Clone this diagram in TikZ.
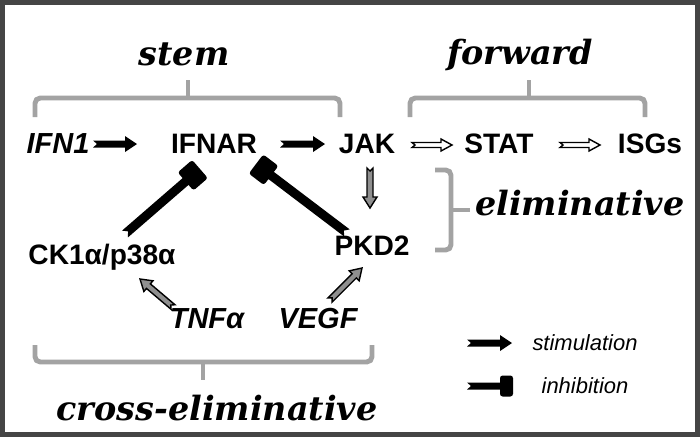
\documentclass[tikz,border=0pt]{standalone}
\usepackage{fontspec}
\setmainfont{Liberation Sans}
\newfontfamily\phasefont{DejaVu Serif}
\usetikzlibrary{calc}
\definecolor{frameC}{HTML}{454545}
\definecolor{braceC}{HTML}{A3A3A3}
\definecolor{midG}{HTML}{8F8F8F}
\def\px{0.02cm}

% block arrow with notched tail: \blockarr[style]{from}{to}
\newcommand\blockarr[3][stim]{%
  \path[#1] let \p1=(#2), \p2=(#3),
      \n1={atan2(\y2-\y1,\x2-\x1)}, \n2={veclen(\x2-\x1,\y2-\y1)} in
    ($(\p1)+({\n1+90}:{\aS*\px})$) -- ($(\p1)+(\n1:{\aN*\px})$)
    -- ($(\p1)+({\n1-90}:{\aS*\px})$)
    -- ($(\p1)+(\n1:{(\n2)*1pt-\aL*\px})+({\n1-90}:{\aS*\px})$)
    -- ($(\p1)+(\n1:{(\n2)*1pt-\aL*\px})+({\n1-90}:{\aH*\px})$)
    -- (\p2)
    -- ($(\p1)+(\n1:{(\n2)*1pt-\aL*\px})+({\n1+90}:{\aH*\px})$)
    -- ($(\p1)+(\n1:{(\n2)*1pt-\aL*\px})+({\n1+90}:{\aS*\px})$) -- cycle;}

% bar with notched tail and square end: \inhibarr[style]{from}{to}
\newcommand\inhibarr[3][inh]{%
  \path[#1] let \p1=(#2), \p2=(#3),
      \n1={atan2(\y2-\y1,\x2-\x1)}, \n2={veclen(\x2-\x1,\y2-\y1)} in
    ($(\p1)+({\n1+90}:{\aS*\px})$) -- ($(\p1)+(\n1:{\aN*\px})$)
    -- ($(\p1)+({\n1-90}:{\aS*\px})$)
    -- ($(\p1)+(\n1:{(\n2)*1pt-\aL*\px})+({\n1-90}:{\aS*\px})$)
    [rounded corners=1.5pt]
    -- ($(\p1)+(\n1:{(\n2)*1pt-\aL*\px})+({\n1-90}:{\aH*\px})$)
    -- ($(\p2)+({\n1-90}:{\aH*\px})$)
    -- ($(\p2)+({\n1+90}:{\aH*\px})$)
    -- ($(\p1)+(\n1:{(\n2)*1pt-\aL*\px})+({\n1+90}:{\aH*\px})$)
    [sharp corners]
    -- ($(\p1)+(\n1:{(\n2)*1pt-\aL*\px})+({\n1+90}:{\aS*\px})$) -- cycle;}

\begin{document}
\begin{tikzpicture}[
  x=0.02cm, y=-0.02cm,
  gene/.style={font=\fontsize{16}{19}\selectfont\bfseries, inner sep=0pt},
  ligand/.style={font=\fontsize{16.5}{19}\selectfont\bfseries\itshape, inner sep=0pt},
  phase/.style={font=\phasefont\fontsize{19}{22}\selectfont\bfseries\itshape,
                inner sep=0pt, anchor=base},
  key/.style={font=\fontsize{12.5}{15}\selectfont\itshape, inner sep=0pt},
  brace/.style={draw=braceC, line width=2.8pt, rounded corners=3pt},
  stim/.style={fill=black, /utils/exec={\def\aS{3.5}\def\aH{8}\def\aL{12}\def\aN{4}}},
  fwd/.style={fill=white, draw=black, line width=0.8pt, line join=miter,
              /utils/exec={\def\aS{2.5}\def\aH{6}\def\aL{11}\def\aN{3}}},
  elim/.style={fill=midG, draw=black, line width=0.8pt, line join=miter,
               /utils/exec={\def\aS{3}\def\aH{7}\def\aL{11}\def\aN{3}}},
  inh/.style={fill=black, /utils/exec={\def\aS{4.5}\def\aH{12}\def\aL{19}\def\aN{4}}},
]
  % --- frame ---
  \useasboundingbox (0,0) rectangle (700,437);
  \fill[frameC] (0,0) rectangle (700,437);
  \fill[white] (5,5) rectangle (695,432);

  % --- molecules ---
  \node[ligand] (ifn)   at (58,144)  {IFN1};
  \node[gene]   (ifnar) at (214,144) {IFNAR};
  \node[gene]   (jak)   at (367,144) {JAK};
  \node[gene]   (stat)  at (499,144) {STAT};
  \node[gene]   (isgs)  at (650,144) {ISGs};
  \node[gene]   (pkd)   at (372,246) {PKD2};
  \node[gene]   (ck)    at (102,257) {CK1α/p38α};
  \node[ligand] (tnf)   at (207,319) {TNFα};
  \node[ligand] (vegf)  at (318,319) {VEGF};

  % --- phases and braces ---
  \node[phase] (stem) at (184,65)  {stem};
  \node[phase] (fwdL) at (520,64)  {forward};
  \node[phase] (elL)  at (580,215) {eliminative};
  \node[phase] (crL)  at (217,420) {cross-eliminative};

  \draw[brace] (35,117) |- (340,98) -- (340,117);
  \draw[brace] (188,98) -- (188,80);
  \draw[brace] (410,117) |- (645,98) -- (645,117);
  \draw[brace] (529,98) -- (529,80);
  \draw[brace] (435,170) -| (451,250) -- (435,250);
  \draw[brace] (451,210) -- (470,210);
  \draw[brace] (35,345) |- (372,362) -- (372,345);
  \draw[brace] (203,362) -- (203,380);

  % --- stimulation ---
  \blockarr{$(ifn)+(35,0)$}{$(ifnar)+(-77,0)$}
  \blockarr{$(ifnar)+(66,0)$}{$(jak)+(-42,0)$}
  \blockarr[fwd]{$(jak)+(45,1)$}{$(stat)+(-47,1)$}
  \blockarr[fwd]{$(stat)+(61,1)$}{$(isgs)+(-50,1)$}
  \blockarr[elim]{$(jak)+(3,24)$}{$(pkd)+(-2,-38)$}
  \blockarr[elim]{$(tnf)+(-34,-12)$}{$(ck)+(38,22)$}
  \blockarr[elim]{$(vegf)+(12,-19)$}{$(pkd)+(-10,22)$}

  % --- inhibition ---
  \inhibarr{$(ck)+(23,-23)$}{$(ifnar)+(-14,25)$}
  \inhibarr{$(pkd)+(-25,-13)$}{$(ifnar)+(42,20)$}

  % --- legend ---
  \node[key] (kStim) at (585,343) {stimulation};
  \node[key] (kInh)  at (585,386) {inhibition};
  \blockarr{$(kStim)+(-118,0)$}{$(kStim)+(-73,0)$}
  \inhibarr[inh, /utils/exec={\def\aS{3.5}\def\aH{10.5}\def\aL{13}}]{$(kInh)+(-118,0)$}{$(kInh)+(-72,0)$}
\end{tikzpicture}
\end{document}
